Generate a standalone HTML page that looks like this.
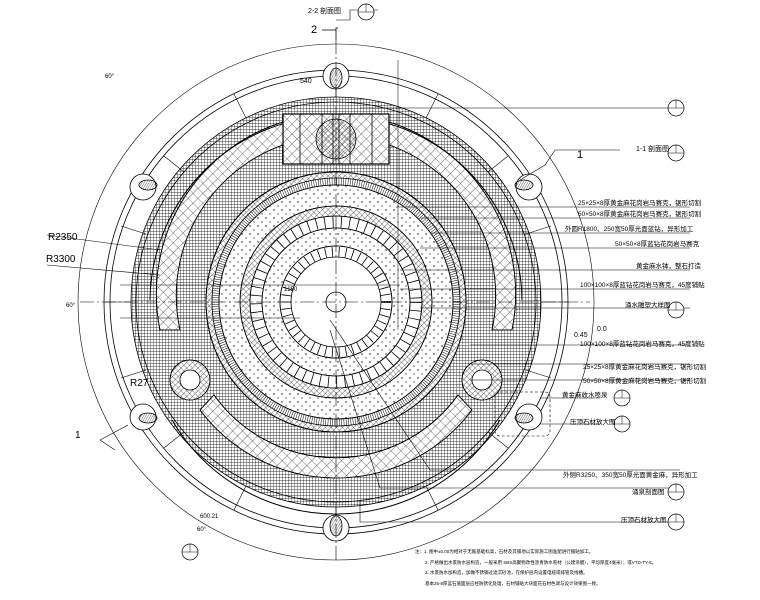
<!DOCTYPE html>
<html><head><meta charset="utf-8"><style>
html,body{margin:0;padding:0;background:#fff;width:760px;height:600px;overflow:hidden}
svg{display:block}
text{font-family:"Liberation Sans","Noto Sans CJK SC",sans-serif;fill:#000}
</style></head><body>
<svg width="760" height="600" viewBox="0 0 760 600" xmlns="http://www.w3.org/2000/svg">
<defs>
<pattern id="grid" width="3" height="3" patternUnits="userSpaceOnUse"><path d="M0 0H3M0 0V3" stroke="#000" stroke-width="0.7" fill="none"/></pattern>
<pattern id="grid2" width="7" height="7" patternUnits="userSpaceOnUse" patternTransform="rotate(45)"><path d="M0 0H7M0 0V7" stroke="#000" stroke-width="0.6" fill="none"/></pattern>
<pattern id="dots" width="8" height="8" patternUnits="userSpaceOnUse"><circle cx="2" cy="2" r="0.7" fill="#000"/><circle cx="6" cy="6" r="0.6" fill="#000"/></pattern>
<pattern id="cross" width="4" height="4" patternUnits="userSpaceOnUse" patternTransform="rotate(45)"><path d="M0 0H4M0 0V4" stroke="#000" stroke-width="0.6" fill="none"/></pattern>
<pattern id="lines" width="2" height="2" patternUnits="userSpaceOnUse" patternTransform="rotate(30)"><path d="M0 0V2" stroke="#000" stroke-width="0.6"/></pattern>
</defs>
<g stroke="#000" fill="none" stroke-width="0.8">
<circle cx="336" cy="302" r="258" stroke-width="0.6"/>
<circle cx="336" cy="302" r="232" fill="#fff"/>
<circle cx="336" cy="302" r="226"/>
<circle cx="336" cy="302" r="205" fill="url(#grid)"/>
<circle cx="336" cy="302" r="200"/>
<g stroke-width="0.6">
<path d="M336 70V97 M568 302H541 M104 302H131 M336 534V507"/>
<path d="M438 94 L426 118 M234 94 L246 118 M508 156 L488 172 M164 156 L184 172 M551 226 L526 234 M121 226 L146 234 M551 378 L526 370 M121 378 L146 370 M508 448 L488 432 M164 448 L184 432 M438 510 L426 486 M234 510 L246 486"/>
</g>
<g fill="#fff">
<circle cx="336" cy="76" r="13"/><circle cx="529" cy="187" r="13"/><circle cx="143" cy="187" r="13"/>
<circle cx="529" cy="417" r="13"/><circle cx="143" cy="417" r="13"/><circle cx="336" cy="528" r="13"/>
</g>
<g fill="url(#lines)">
<ellipse cx="336" cy="78" rx="6" ry="10"/><ellipse cx="524" cy="185" rx="9" ry="5"/><ellipse cx="148" cy="185" rx="9" ry="5"/>
<ellipse cx="524" cy="418" rx="9" ry="5"/><ellipse cx="148" cy="418" rx="9" ry="5"/><ellipse cx="336" cy="526" rx="6" ry="10"/>
</g>
<path d="M160 330 A180 180 0 0 1 290 120 L300 140 A160 160 0 0 0 180 330 Z" fill="#fff"/>
<path d="M160 330 A180 180 0 0 1 290 120 L300 140 A160 160 0 0 0 180 330 Z" fill="url(#grid2)"/>
<path d="M512 330 A180 180 0 0 0 382 120 L372 140 A160 160 0 0 1 492 330 Z" fill="#fff"/>
<path d="M512 330 A180 180 0 0 0 382 120 L372 140 A160 160 0 0 1 492 330 Z" fill="url(#grid2)"/>
<path d="M200 410 A170 170 0 0 0 472 410 L458 395 A150 150 0 0 1 214 395 Z" fill="#fff"/>
<path d="M200 410 A170 170 0 0 0 472 410 L458 395 A150 150 0 0 1 214 395 Z" fill="url(#grid2)"/>
<path d="M150 300 A186 186 0 0 1 336 116" stroke-width="1"/>
<path d="M522 300 A186 186 0 0 0 336 116" stroke-width="1"/>
<path d="M172 420 A190 190 0 0 0 500 420" stroke-width="1"/>
<rect x="283" y="114" width="106" height="50" fill="#fff" stroke-width="1.2"/>
<rect x="283" y="114" width="106" height="50" fill="url(#grid2)"/>
<path d="M300 114V164M322 114V164M333 114V164M339 114V164M350 114V164M372 114V164"/>
<circle cx="336" cy="139" r="20" fill="url(#cross)"/>
<circle cx="190" cy="380" r="20" fill="#fff"/><circle cx="190" cy="380" r="20" fill="url(#cross)"/><circle cx="190" cy="380" r="10" fill="#fff"/>
<circle cx="482" cy="380" r="20" fill="#fff"/><circle cx="482" cy="380" r="20" fill="url(#cross)"/><circle cx="482" cy="380" r="10" fill="#fff"/>
<circle cx="336" cy="302" r="130" fill="#fff" stroke-width="1"/>
<circle cx="336" cy="302" r="130" fill="url(#cross)"/>
<circle cx="336" cy="302" r="124" fill="#fff"/>
<circle cx="336" cy="302" r="121" stroke-width="7" stroke-dasharray="0.5 1.8"/>
<circle cx="336" cy="302" r="117" fill="#fff"/>
<circle cx="336" cy="302" r="117" fill="url(#dots)"/>
<circle cx="336" cy="302" r="96" fill="#fff"/>
<circle cx="336" cy="302" r="96" fill="url(#cross)"/>
<circle cx="336" cy="302" r="86" fill="#fff"/>
<circle cx="336" cy="302" r="86"/><circle cx="336" cy="302" r="74"/>
<circle cx="336" cy="302" r="80" stroke-width="11" stroke-dasharray="0.8 7.5"/>
<circle cx="336" cy="302" r="74" fill="url(#dots)"/>
<circle cx="336" cy="302" r="56" fill="#fff"/>
<circle cx="336" cy="302" r="56"/><circle cx="336" cy="302" r="45"/>
<circle cx="336" cy="302" r="50" stroke-width="10" stroke-dasharray="0.8 6"/>
<circle cx="336" cy="302" r="10"/>
<path d="M336 40V560 M80 302H590" stroke-dasharray="14 3 2 3" stroke-width="0.6"/>
<path d="M398 60V330 M120 285H400 M120 318H300" stroke-width="0.5"/>
<path d="M336 40V28H338 M322 30H336" stroke-width="0.8"/>
<path d="M336 20H350V10H378" stroke-width="0.6"/>
<path d="M100 440L115 450 M128 425 L100 440" stroke-width="0.6"/>
<path d="M520 180 L545 165 L555 150 L620 150" stroke-width="0.6"/>
<path d="M47 235L160 250 M47 265L160 275" stroke-width="0.6"/>
<g stroke-width="0.6">
<path d="M360 108H680 M396 207H690 M420 218H690 M430 233H690 M420 248H690 M400 270H690 M400 289H690 M420 308H690 M470 345H690 M470 364H690 M470 380H690 M540 398H600 M540 424H600"/>
<path d="M330 320 L430 470H680 M330 330 L380 488H680 M360 500 L360 522H680"/>
<rect x="495" y="392" width="55" height="44" rx="5" stroke-dasharray="3 2"/>
</g>
<g stroke-width="0.7" fill="#fff">
<circle cx="676" cy="108" r="8"/><circle cx="676" cy="153" r="8"/><circle cx="676" cy="310" r="8"/>
<circle cx="622" cy="398" r="8"/><circle cx="622" cy="424" r="8"/><circle cx="676" cy="492" r="8"/><circle cx="676" cy="522" r="8"/>
<circle cx="366" cy="12" r="8"/><circle cx="190" cy="552" r="8"/>
</g>
<g stroke-width="0.5">
<path d="M668 108H684M676 100V108M668 153H684M676 145V153M668 310H684M676 302V310M614 398H630M622 390V398M614 424H630M622 416V424M668 492H684M676 484V492M668 522H684M676 514V522M358 12H374M366 4V12M182 552H198M190 544V552"/>
</g>
</g>
<g font-size="7">
<text x="308" y="13">2-2 剖面图</text>
<text x="311" y="33" font-size="11">2</text>
<text x="636" y="151">1-1 剖面图</text>
<text x="577" y="158" font-size="11">1</text>
<text x="578" y="205" font-size="6.5">25×25×8厚黄金麻花岗岩马赛克，锯形切割</text>
<text x="578" y="216" font-size="6.5">50×50×8厚黄金麻花岗岩马赛克，锯形切割</text>
<text x="565" y="231" font-size="6.5">外圆R1800、250宽50厚光面蓝钻，异形加工</text>
<text x="615" y="246" font-size="6.5">50×50×8厚蓝钻花岗岩马赛克</text>
<text x="636" y="268" font-size="6.5">黄金麻水钵，整石打造</text>
<text x="580" y="287" font-size="6.5">100×100×8厚蓝钻花岗岩马赛克，45度铺贴</text>
<text x="625" y="307" font-size="6.5">涌水雕塑大样图</text>
<text x="580" y="346" font-size="6.5">100×100×8厚蓝钻花岗岩马赛克，45度铺贴</text>
<text x="583" y="369" font-size="6.5">25×25×8厚黄金麻花岗岩马赛克，锯形切割</text>
<text x="583" y="383" font-size="6.5">50×50×8厚黄金麻花岗岩马赛克，锯形切割</text>
<text x="562" y="397" font-size="6.5">黄金麻收水喷泉</text>
<text x="570" y="424" font-size="6.5">压顶石材放大图</text>
<text x="563" y="477" font-size="6.5">外侧R3250、350宽50厚光面黄金麻，异形加工</text>
<text x="632" y="494" font-size="6.5">涌泉剖面图</text>
<text x="621" y="522" font-size="6.5">压顶石材放大图</text>
<text x="48" y="240" font-size="10">R2350</text>
<text x="46" y="262" font-size="10">R3300</text>
<text x="130" y="386" font-size="10">R27</text>
<text x="75" y="438" font-size="10">1</text>
<text x="300" y="83" font-size="7">540</text>
<text x="574" y="337" font-size="7">0.45</text>
<text x="597" y="331" font-size="7">0.0</text>
<text x="284" y="291" font-size="6">1250</text>
<text x="200" y="518" font-size="6">600.21</text>
<text x="105" y="78" font-size="6">60°</text>
<text x="66" y="307" font-size="6">60°</text>
<text x="197" y="531" font-size="6">60°</text>
<g font-size="4.5">
<text x="415" y="553">注：1. 图中±0.00为相对于无敌基础标高，石材及其铺地以实际施工图准配进行铺贴加工。</text>
<text x="425" y="564">2. 严格做出水景防水层构造，一般采用 SBS高聚物改性沥青防水卷材（公建涂膜），平均厚度4毫米）；或VTD-TY-5。</text>
<text x="425" y="574">3. 水景防水加构造，加做不锈钢过滤沉砂池，在保护层内设置电缆或排管及线槽。</text>
<text x="425" y="585">基本25-8厚蓝石施面层应经防锈化处理，石材铺贴大块面花石材色调与设计效果图一致。</text>
</g>
</g>
</svg>
</body></html>
